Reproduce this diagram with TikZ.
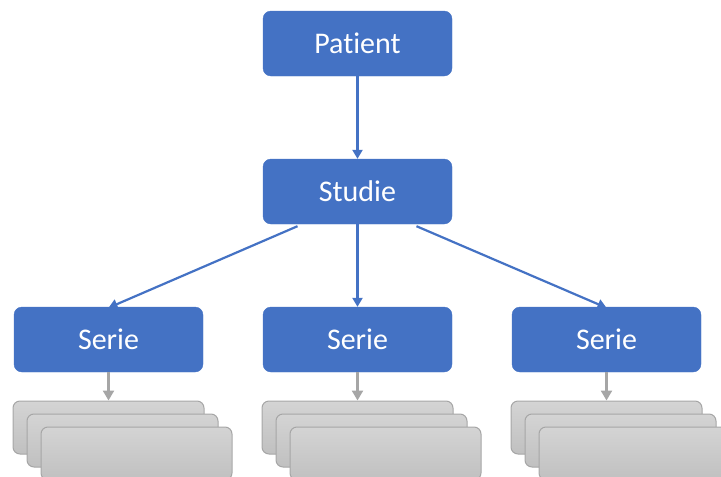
\documentclass[tikz,border=0pt]{standalone}
\usepackage{fontspec}
\setmainfont{Carlito}[Ligatures=NoCommon]
\usetikzlibrary{arrows.meta}
\definecolor{boxblue}{HTML}{4472C4}
\definecolor{edgegray}{HTML}{A6A6A6}
\definecolor{topgray}{HTML}{D4D4D4}
\definecolor{botgray}{HTML}{C0C0C0}
\tikzset{
  bluebox/.style={rectangle, rounded corners=8pt, fill=boxblue, draw=boxblue,
    minimum width=189pt, minimum height=65pt, inner sep=0pt, text=white,
    font=\fontsize{30}{32}\selectfont},
  graybox/.style={rectangle, rounded corners=7pt, draw=edgegray, line width=1pt,
    top color=topgray, bottom color=botgray, minimum width=191pt, minimum height=53pt, inner sep=0pt},
  bluearrow/.style={draw=boxblue, line width=2.2pt, -{Triangle[width=10pt,length=9pt]}},
  grayarrow/.style={draw=edgegray, line width=2.4pt, -{Triangle[width=11pt,length=10pt]}}
}
\begin{document}
\begin{tikzpicture}[x=1pt,y=-1pt]
\useasboundingbox (0,0) rectangle (721,477);
\clip (0,0) rectangle (721,477);
\node[bluebox] (patient) at (357.5,43.5) {Patient};
\node[bluebox] (studie) at (357.5,191.5) {Studie};
\node[bluebox] (serieA) at (108.5,339.5) {Serie};
\node[bluebox] (serieB) at (357.5,339.5) {Serie};
\node[bluebox] (serieC) at (606.5,339.5) {Serie};
% stacks
\foreach \n/\x in {A/108.5,B/357.5,C/606.5}{
  \node[graybox] (\n1) at (\x,427.5) {};
  \node[graybox] (\n2) at (\x+14,440.5) {};
  \node[graybox] (\n3) at (\x+28,453.5) {};
}
\draw[bluearrow] (patient.south) -- (studie.north);
\draw[bluearrow] (studie.south) -- (serieB.north);
\draw[bluearrow] ([xshift=-60pt,yshift=-2pt]studie.south) -- ([yshift=-1pt]serieA.north);
\draw[bluearrow] ([xshift=59pt,yshift=-2pt]studie.south) -- ([yshift=-1pt]serieC.north);
\draw[grayarrow] (serieA.south) -- (A1.north);
\draw[grayarrow] (serieB.south) -- (B1.north);
\draw[grayarrow] (serieC.south) -- (C1.north);
\end{tikzpicture}
\end{document}
